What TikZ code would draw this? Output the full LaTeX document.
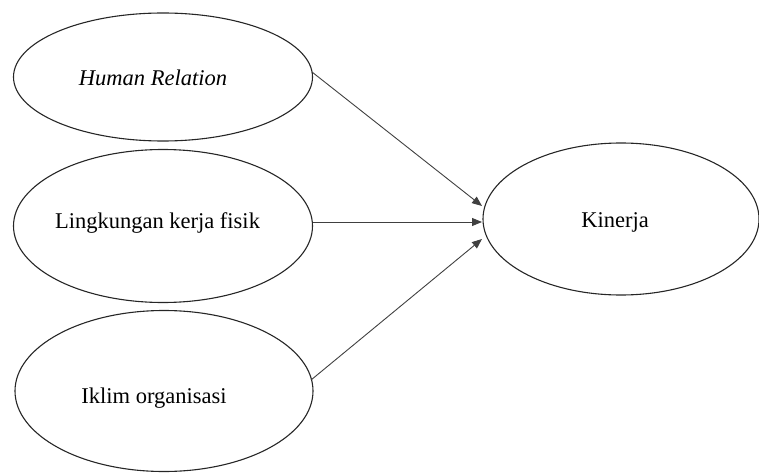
\documentclass[tikz,border=0pt]{standalone}
\usepackage{fontspec}
\setmainfont{Liberation Serif}
\usetikzlibrary{arrows.meta,shapes.geometric}
\newcommand{\txtshift}[3]{\hspace*{#1}\raisebox{#2}[16pt][5pt]{#3}}
\begin{document}
\begin{tikzpicture}[x=1pt,y=-1pt,
  var/.style={ellipse,draw=black!85,line width=1.1pt,inner sep=0pt,
    font=\fontsize{22.5}{27}\selectfont},
  conn/.style={draw=black!75,line width=0.9pt,
    -{Triangle[length=10pt,width=8pt]}}]
\useasboundingbox (0,0) rectangle (759,473);
\node[var,minimum width=299pt,minimum height=128pt] (hr) at (163,77) {\txtshift{-20pt}{-3.5pt}{\itshape Human Relation}};
\node[var,minimum width=299pt,minimum height=153pt] (lk) at (163,226) {\txtshift{-11pt}{3.5pt}{Lingkungan kerja fisik}};
\node[var,minimum width=298pt,minimum height=161pt] (io) at (164,391) {\txtshift{-20pt}{-6.5pt}{Iklim organisasi}};
\node[var,minimum width=276pt,minimum height=152pt] (kn) at (621,219) {\txtshift{-12pt}{-3pt}{Kinerja}};
\coordinate (t1) at (482,206);
\coordinate (t2) at (482,222);
\coordinate (t3) at (482,239);
\coordinate (s1) at (312,72);
\coordinate (s3) at (311,380);
\draw[conn] (s1) -- (t1);
\draw[conn] (lk.east |- t2) -- (t2);
\draw[conn] (s3) -- (t3);
\end{tikzpicture}
\end{document}
